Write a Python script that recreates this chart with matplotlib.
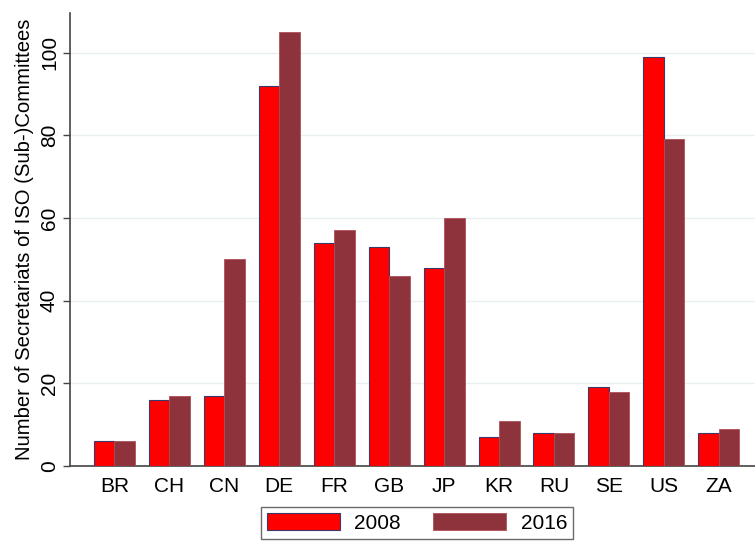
import numpy as np
import matplotlib
matplotlib.use("Agg")
from matplotlib import pyplot as plt

countries = ["BR", "CH", "CN", "DE", "FR", "GB", "JP", "KR", "RU", "SE", "US", "ZA"]
y2008 = [6, 16, 17, 92, 54, 53, 48, 7, 8, 19, 99, 8]
y2016 = [6, 17, 50, 105, 57, 46, 60, 11, 8, 18, 79, 9]
yticks = [0, 20, 40, 60, 80, 100]

plt.rcParams['font.family'] = ['Liberation Sans', 'DejaVu Sans']

fig = plt.figure(figsize=(7.55, 5.43), dpi=100)
ax = fig.add_axes([70 / 755, 1 - 466 / 543, 1 - 70 / 755, (466 - 13) / 543])

x = np.arange(len(countries))
w = 0.373
ax.bar(x - w / 2, y2008, w, color='#ff0000', edgecolor='#3a3a6a', linewidth=0.8, label='2008', zorder=3)
ax.bar(x + w / 2, y2016, w, color='#8e333b', edgecolor='#b05058', linewidth=0.6, label='2016', zorder=3)

ax.set_xlim(-0.81, 11.66)
ax.set_ylim(0, 109.6)
ax.set_xticks(x)
ax.set_xticklabels(countries, fontsize=15)
ax.tick_params(axis='x', length=0, pad=8)
ax.set_yticks(yticks)
ax.set_yticklabels([str(t) for t in yticks], fontsize=15, rotation=90, va='center')
ax.tick_params(axis='y', length=5, width=1, color='#444444', pad=3)
ax.yaxis.grid(True, color='#e8f0f2', linewidth=1, zorder=0)

for s in ['top', 'right']:
    ax.spines[s].set_visible(False)
for s in ['left', 'bottom']:
    ax.spines[s].set_color('#444444')
    ax.spines[s].set_linewidth(1.2)

ax.set_ylabel("Number of Secretariats of ISO (Sub-)Committees", fontsize=14.6, labelpad=4)

leg = fig.legend(loc='center', bbox_to_anchor=(417 / 755, 1 - 523 / 543), ncol=2, fontsize=15,
                 frameon=True, fancybox=False, edgecolor='#444444', handlelength=3.5, handleheight=0.9,
                 handletextpad=0.7, columnspacing=1.55, borderpad=0.3, borderaxespad=0)
leg.get_frame().set_linewidth(1)

fig.savefig("out.png", dpi=100)
